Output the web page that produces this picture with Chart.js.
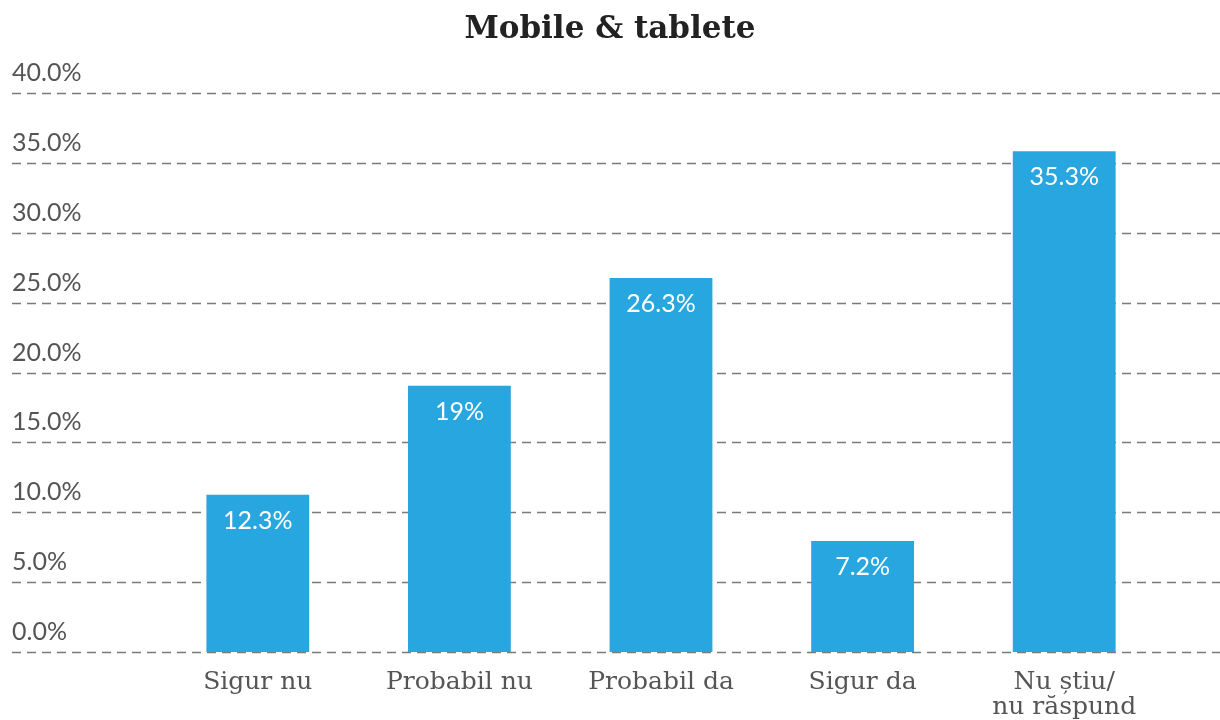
<!DOCTYPE html>
<html>
<head>
<meta charset="utf-8">
<script src="https://cdn.jsdelivr.net/npm/chart.js@4/dist/chart.umd.min.js"></script>
<style>
html,body{margin:0;padding:0;background:#fff;}
#wrap{width:1220px;height:720px;position:relative;}
</style>
</head>
<body>
<div id="wrap"><canvas id="c"></canvas></div>
<script>
const titleText = 'Mobile & tablete';
const categories = ['Sigur nu', 'Probabil nu', 'Probabil da', 'Sigur da', ['Nu știu/', 'nu răspund']];
// bar heights as drawn in the picture
const values = [11.25, 19.05, 26.77, 7.95, 35.84];
// value labels as printed on the bars
const valueLabels = ['12.3%', '19%', '26.3%', '7.2%', '35.3%'];
const yMin = 0, yMax = 40, yStep = 5;

const gridPlugin = {
  id: 'fullGrid',
  beforeDatasetsDraw(chart) {
    const ctx = chart.ctx, y = chart.scales.y;
    ctx.save();
    ctx.strokeStyle = '#7a7a7a';
    ctx.lineWidth = 1.5;
    ctx.setLineDash([9, 6]);
    y.ticks.forEach(t => {
      const py = Math.round(y.getPixelForValue(t.value)) + 0.5;
      ctx.beginPath();
      ctx.moveTo(12, py);
      ctx.lineTo(chart.width, py);
      ctx.stroke();
    });
    ctx.restore();
  }
};

const titlePlugin = {
  id: 'centerTitle',
  afterDraw(chart) {
    const ctx = chart.ctx;
    ctx.save();
    ctx.fillStyle = '#222222';
    ctx.font = 'bold 31px "DejaVu Serif"';
    ctx.textAlign = 'center';
    ctx.textBaseline = 'middle';
    ctx.fillText(titleText, chart.width / 2, 30);
    ctx.restore();
  }
};

const valuePlugin = {
  id: 'valueLabels',
  afterDatasetsDraw(chart) {
    const ctx = chart.ctx;
    const meta = chart.getDatasetMeta(0);
    ctx.save();
    ctx.fillStyle = '#ffffff';
    ctx.font = '25px Lato';
    ctx.textAlign = 'center';
    ctx.textBaseline = 'middle';
    meta.data.forEach((bar, i) => {
      ctx.fillText(valueLabels[i], bar.x, bar.y + 26);
    });
    ctx.restore();
  }
};

new Chart(document.getElementById('c'), {
  type: 'bar',
  data: {
    labels: categories,
    datasets: [{
      data: values,
      backgroundColor: '#27a6df',
      barPercentage: 0.51,
      categoryPercentage: 1.0
    }]
  },
  options: {
    responsive: true,
    maintainAspectRatio: false,
    animation: false,
    layout: { padding: { left: 12, right: 55, top: 93, bottom: 1 } },
    plugins: {
      legend: { display: false },
      tooltip: { enabled: false },
      title: { display: false }
    },
    scales: {
      x: {
        grid: { display: false, drawTicks: false },
        border: { display: false },
        ticks: {
          color: '#555555',
          font: { family: 'DejaVu Serif', size: 25, lineHeight: 1.0 },
          padding: 18,
          maxRotation: 0,
          autoSkip: false
        },
        afterFit(scale) { scale.height = 67; }
      },
      y: {
        min: yMin,
        max: yMax,
        grid: { display: false, drawTicks: false },
        border: { display: false },
        ticks: {
          stepSize: yStep,
          color: '#555555',
          font: { family: 'Lato', size: 25 },
          crossAlign: 'far',
          labelOffset: -20,
          padding: 0,
          callback: v => v.toFixed(1) + '%'
        },
        afterFit(scale) { scale.width = 145; }
      }
    }
  },
  plugins: [gridPlugin, valuePlugin, titlePlugin]
});
</script>
</body>
</html>
